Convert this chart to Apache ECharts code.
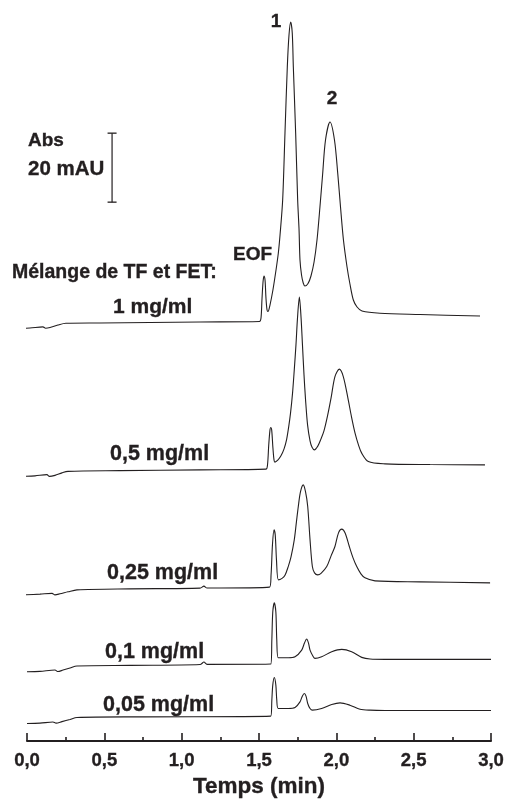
<!DOCTYPE html>
<html><head><meta charset="utf-8">
<script src="https://cdn.jsdelivr.net/npm/echarts@6/dist/echarts.min.js"></script>
<style>html,body{margin:0;padding:0;background:#fff}#c{width:508px;height:807px}</style>
</head><body><div id="c"></div>
<script>
// Sample concentrations (labels) and vertical offsets of each trace (mAU)
const sampleLabels = ['1 mg/ml', '0,5 mg/ml', '0,25 mg/ml', '0,1 mg/ml', '0,05 mg/ml'];
const baselineOffsets = [121.6, 78.8, 44.6, 22.3, 7.2];

// Each trace: [time (min), absorbance above its own baseline (mAU)]
const trace1 = [
  [-0.078,-2.03],[0.019,-1.88],[0.103,-1.54],[0.120,-1.94],[0.149,-1.74],[0.200,-1.01],[0.252,-0.52],
  [0.472,-0.43],[0.795,-0.29],[1.119,-0.14],[1.503,0],[1.513,1.01],[1.519,6.23],[1.526,11.45],
  [1.532,13.19],[1.539,12.03],[1.545,6.81],[1.552,3.33],[1.558,2.90],[1.571,4.78],[1.590,9.13],
  [1.610,14.93],[1.625,19.86],[1.636,25.07],[1.653,35.22],[1.668,54.64],[1.683,73.77],[1.694,83.04],
  [1.705,86.81],[1.715,83.62],[1.722,73.77],[1.737,54.64],[1.750,35.22],[1.759,26.52],[1.765,17.83],
  [1.775,13.48],[1.786,11.16],[1.797,10.29],[1.817,11.01],[1.836,13.19],[1.856,17.25],[1.875,23.62],
  [1.894,33.19],[1.911,42.46],[1.930,52.61],[1.959,57.83],[1.988,52.61],[2.010,42.46],[2.027,33.19],
  [2.046,23.62],[2.069,15.88],[2.088,10.87],[2.110,6.23],[2.134,4.20],[2.166,3.04],[2.282,2.38],
  [2.541,2.03],[2.929,1.59]
];
const trace2 = [
  [-0.045,-2.14],[0.052,-1.94],[0.129,-1.59],[0.145,-2.09],[0.181,-1.80],[0.226,-1.07],[0.265,-0.64],
  [0.601,-0.43],[1.119,-0.20],[1.545,0],[1.555,1.25],[1.563,7.04],[1.571,11.39],[1.576,12.06],
  [1.582,11.39],[1.590,6.17],[1.597,2.70],[1.603,2.03],[1.623,2.70],[1.642,3.86],[1.662,5.88],
  [1.678,8.49],[1.691,11.97],[1.704,16.32],[1.717,22.12],[1.728,28.78],[1.739,36.03],[1.749,43.86],
  [1.761,49.86],[1.772,43.86],[1.781,36.03],[1.791,27.33],[1.801,20.09],[1.814,12.84],[1.830,8.20],
  [1.843,6.32],[1.858,5.59],[1.881,6.75],[1.901,8.78],[1.920,11.10],[1.943,15.45],[1.966,20.67],
  [1.991,26.84],[2.019,28.99],[2.045,26.84],[2.077,20.09],[2.098,15.16],[2.121,10.43],[2.143,7.04],
  [2.164,4.64],[2.207,2.20],[2.315,1.54],[2.606,1.33],[2.961,1.25]
];
const trace3 = [
  [-0.013,-2.23],[0.084,-2.03],[0.162,-1.80],[0.181,-2.23],[0.213,-1.94],[0.265,-1.36],[0.323,-0.78],
  [0.666,-0.49],[1.119,-0.29],[1.144,0.29],[1.164,-0.26],[1.568,0],[1.578,3.57],[1.587,12.26],
  [1.597,16.61],[1.605,15.16],[1.613,7.91],[1.625,2.12],[1.649,2.55],[1.668,3.42],[1.689,5.97],
  [1.707,8.78],[1.728,13.71],[1.742,18.93],[1.754,23.36],[1.768,27.62],[1.786,29.65],[1.801,27.62],
  [1.815,23.36],[1.830,13.71],[1.845,5.97],[1.859,4.14],[1.880,3.57],[1.901,4.00],[1.938,5.97],
  [1.966,9.07],[1.991,11.77],[2.014,15.74],[2.035,16.81],[2.056,15.74],[2.084,11.77],[2.108,8.49],
  [2.132,5.97],[2.159,3.86],[2.185,2.70],[2.250,1.83],[2.541,1.54],[2.994,1.25]
];
const trace4 = [
  [0.000,-2.23],[0.084,-2.12],[0.181,-1.74],[0.200,-2.17],[0.233,-1.74],[0.278,-1.16],[0.323,-0.58],
  [0.666,-0.38],[1.119,-0.14],[1.144,0.58],[1.164,-0.09],[1.576,0],[1.583,6.96],[1.589,15.07],
  [1.599,17.77],[1.609,15.07],[1.615,6.96],[1.625,1.83],[1.689,1.83],[1.733,2.12],[1.776,4.06],
  [1.794,6.09],[1.808,7.25],[1.820,6.09],[1.830,4.06],[1.851,2.12],[1.862,1.65],[1.905,2.12],
  [1.970,3.57],[2.035,4.26],[2.099,3.57],[2.164,1.94],[2.218,1.45],[2.315,1.36],[3.000,1.36]
];
const trace5 = [
  [0.000,-2.12],[0.084,-2.03],[0.168,-1.68],[0.188,-2.03],[0.226,-1.59],[0.278,-0.96],[0.323,-0.38],
  [0.731,-0.20],[1.576,0],[1.583,4.64],[1.589,8.99],[1.599,11.22],[1.609,8.99],[1.615,4.64],
  [1.625,2.23],[1.689,2.23],[1.733,2.52],[1.765,4.14],[1.780,5.80],[1.793,6.58],[1.804,5.80],
  [1.815,3.68],[1.830,2.23],[1.845,1.74],[1.905,2.23],[1.970,3.39],[2.024,3.86],[2.088,3.19],
  [2.153,2.03],[2.218,1.74],[2.315,1.65],[3.000,1.65]
];
const traces = [trace1, trace2, trace3, trace4, trace5];

// Scale bar: 20 mAU
const scaleBarTime = 0.55;
const scaleBarBottom = 156.2;
const scaleBarLength = 20;

const xMin = 0, xMax = 3, xStep = 0.5;
const yMin = 0, yMax = 214.8;

const INK = '#231f20';
const FONT = '"Liberation Sans", Arial, Helvetica, sans-serif';

const chart = echarts.init(document.getElementById('c'), null, {renderer: 'canvas'});

const series = traces.map((t, i) => ({
  type: 'line',
  name: sampleLabels[i],
  data: t.map(p => [p[0], p[1] + baselineOffsets[i]]),
  showSymbol: false,
  symbol: 'none',
  smooth: 0.3,
  clip: false,
  silent: true,
  lineStyle: {color: INK, width: 1.1},
  z: 2
}));
series.push({
  type: 'line',
  data: [[scaleBarTime, scaleBarBottom], [scaleBarTime, scaleBarBottom + scaleBarLength]],
  symbol: 'rect',
  symbolSize: [9, 1.3],
  showSymbol: true,
  clip: false,
  silent: true,
  itemStyle: {color: INK},
  lineStyle: {color: INK, width: 1.2}
});

function txt(text, x, y, size, align) {
  return {type: 'text', x: x, y: y, silent: true, z: 10,
    style: {text: text, fill: INK, font: 'bold ' + size + 'px ' + FONT,
            stroke: INK, lineWidth: 0.35,
            align: align || 'left', verticalAlign: 'middle',
            textAlign: align || 'left', textVerticalAlign: 'middle'}};
}

chart.setOption({
  animation: false,
  backgroundColor: '#fff',
  grid: {left: 27, right: 17, top: 0, bottom: 66, containLabel: false, outerBoundsMode: 'none'},
  xAxis: {
    type: 'value', min: xMin, max: xMax, interval: xStep,
    name: 'Temps (min)', nameLocation: 'middle', nameGap: 33,
    nameTextStyle: {color: INK, fontSize: 22.5, fontWeight: 'bold', fontFamily: FONT,
      textBorderColor: INK, textBorderWidth: 0.35},
    axisLine: {show: true, onZero: false, lineStyle: {color: INK, width: 2}},
    axisTick: {show: true, inside: true, length: 8, lineStyle: {color: INK, width: 1.6}},
    minorTick: {show: true, splitNumber: 2, length: 4, lineStyle: {color: INK, width: 1.6}},
    splitLine: {show: false}, minorSplitLine: {show: false},
    axisLabel: {color: INK, fontSize: 18.5, fontWeight: 'bold', fontFamily: FONT, margin: 10,
      textBorderColor: INK, textBorderWidth: 0.35,
      formatter: v => v.toFixed(1).replace('.', ',')}
  },
  yAxis: {type: 'value', min: yMin, max: yMax, show: false, splitLine: {show: false}},
  series: series,
  graphic: [
    txt('1', 276, 22, 19, 'center'),
    txt('2', 332, 99, 19, 'center'),
    txt('Abs', 28, 141, 19),
    txt('20 mAU', 28, 169, 20.5),
    txt('EOF', 233, 255, 19),
    txt('Mélange de TF et FET:', 12, 273, 19.5),
    txt(sampleLabels[0], 113, 307, 21),
    txt(sampleLabels[1], 110, 454, 21.5),
    txt(sampleLabels[2], 107, 573, 21.5),
    txt(sampleLabels[3], 105, 652, 21.5),
    txt(sampleLabels[4], 103, 705, 21.5)
  ]
});
</script></body></html>
